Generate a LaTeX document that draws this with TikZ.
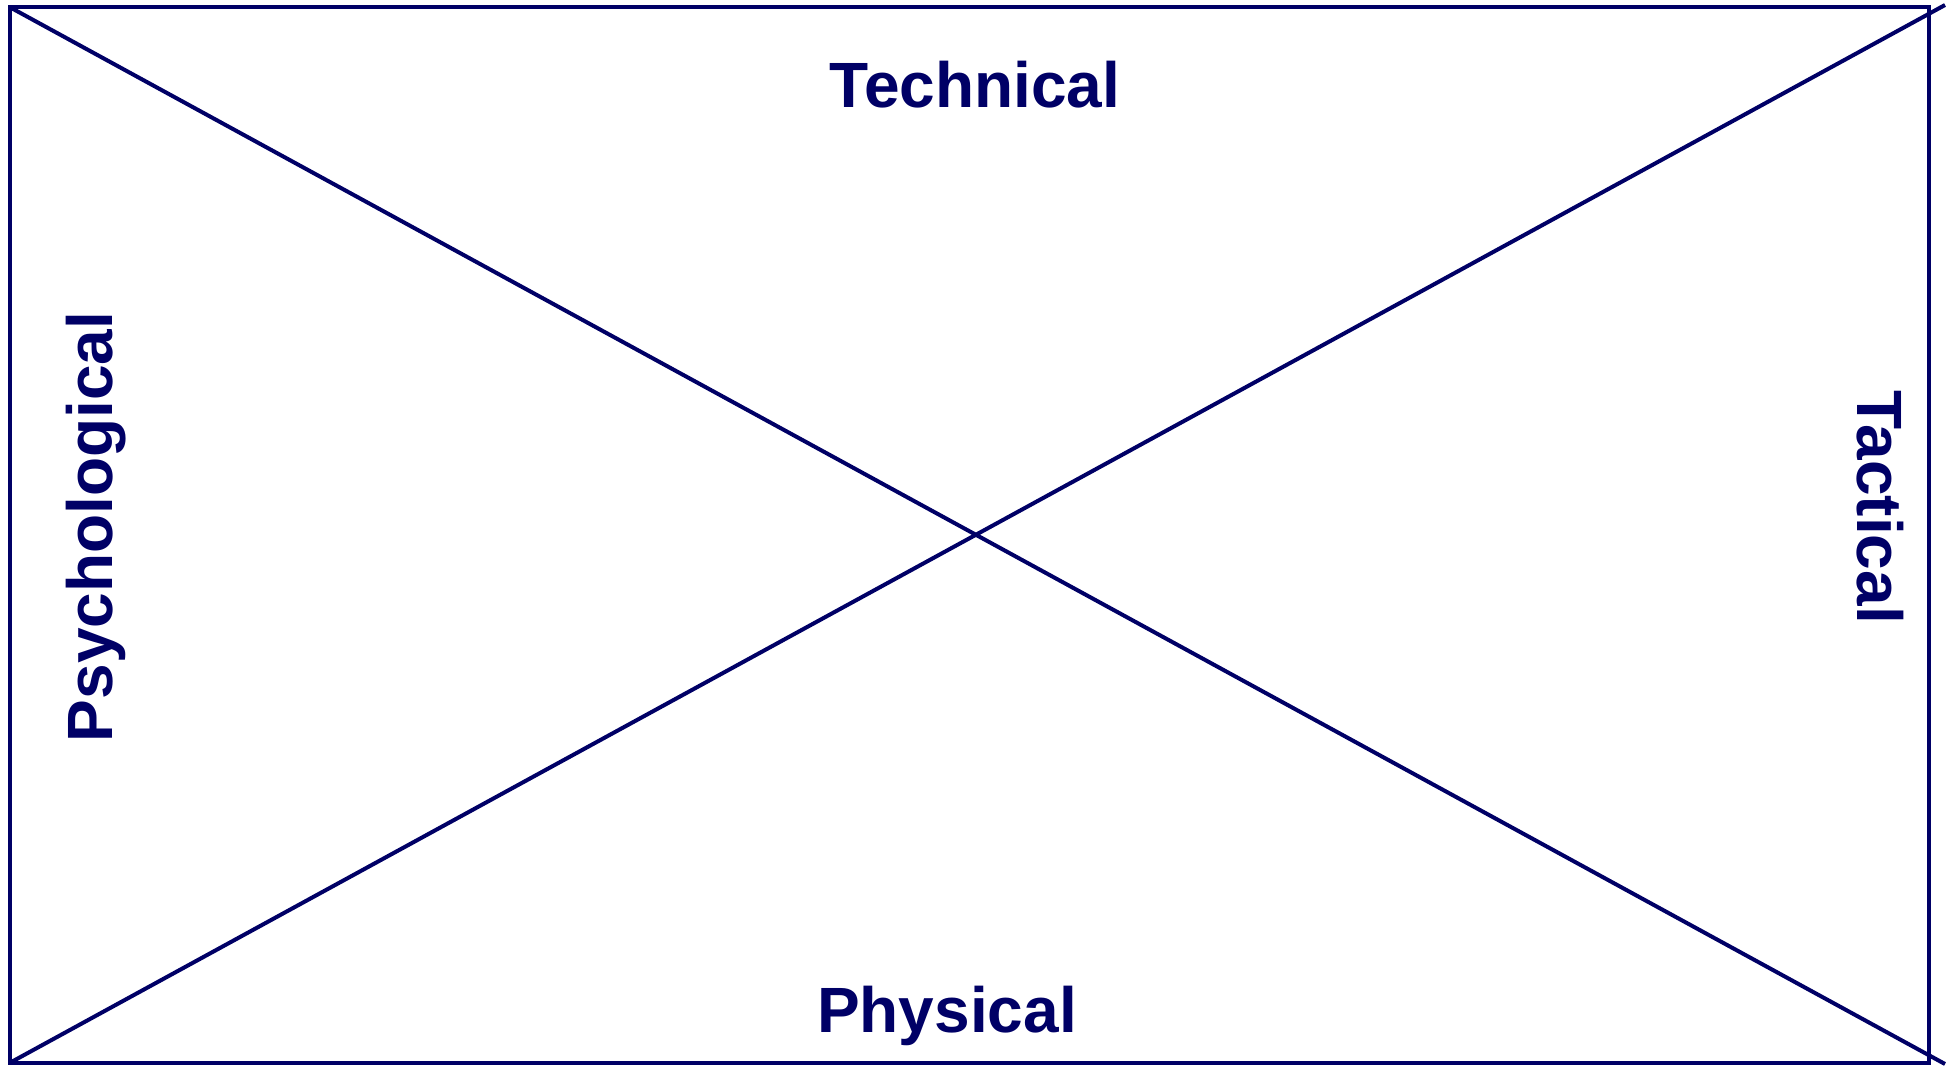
\documentclass[tikz,border=0pt]{standalone}
\usepackage{fontspec}
\setmainfont{Liberation Sans}
\usetikzlibrary{positioning}
\definecolor{navy}{RGB}{0,0,102}
\tikzset{
  frame/.style={draw=navy, line width=2pt},
  cross/.style={draw=navy, line width=2pt},
  label/.style={text=navy, font=\fontsize{32}{38}\selectfont\bfseries, inner sep=0pt, anchor=base}
}

\begin{document}
\begin{tikzpicture}[x=0.5pt, y=-0.5pt]
  \useasboundingbox (0,0) rectangle (1953,1066);
  \coordinate (nw) at (9.5,7);
  \coordinate (sw) at (9.5,1063);
  \coordinate (ne) at (1929,7);
  \coordinate (se) at (1929,1063);
  \coordinate (neout) at (1945,5);
  \coordinate (seout) at (1945,1064);

  \draw[frame] (nw) rectangle (se);
  \draw[cross] (nw) -- (seout);
  \draw[cross] (sw) -- (neout);

  \node[label] (technical) at (975,107) {Technical};
  \node[label] (physical) at (947,1032) {Physical};
  \node[label, rotate=90] (psych) at (112,527) {Psychological};
  \node[label, rotate=-90] (tactical) at (1857,507) {Tactical};
\end{tikzpicture}
\end{document}
